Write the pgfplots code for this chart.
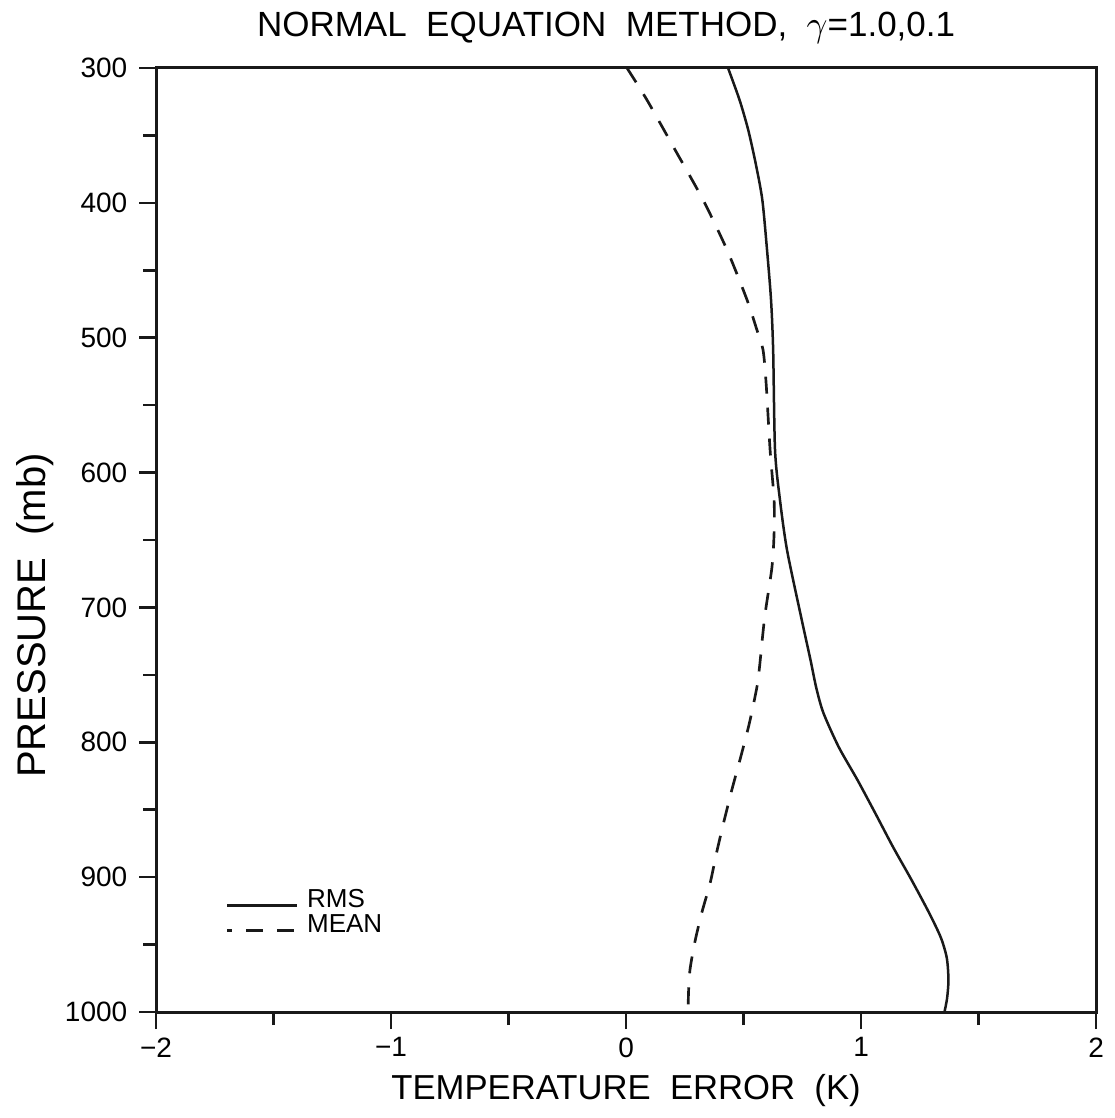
\documentclass[border=0pt]{standalone}
\usepackage{fontspec}
\setmainfont{Liberation Sans}
\usepackage{pgfplots}
\pgfplotsset{compat=1.18}

% temperature error profiles (K) vs pressure (mb)
\pgfplotstableread{
x p
0.434 300
0.483 323.7
0.520 346.0
0.553 371.9
0.580 397.9
0.600 435.0
0.617 472.0
0.626 509.1
0.634 583.3
0.655 620.3
0.685 657.4
0.745 707.1
0.785 739.0
0.810 760.0
0.840 778.3
0.905 803.5
0.985 828.0
1.060 852.4
1.136 877.6
1.215 902.1
1.290 926.6
1.340 945.0
1.365 960.0
1.372 976.3
1.366 990.0
1.355 1000
}\rmsdata
\pgfplotstableread{
x p
0.004 300
0.089 323.7
0.209 360.8
0.328 397.9
0.430 435.0
0.515 472.0
0.557 494.3
0.583 509.1
0.596 533.6
0.613 583.3
0.630 620.3
0.630 644.8
0.621 670.0
0.590 707.1
0.568 744.2
0.557 759.0
0.525 785.7
0.488 810.9
0.450 835.4
0.415 859.8
0.385 882.1
0.358 904.3
0.322 926.6
0.292 948.8
0.272 968.8
0.266 985.0
0.264 1000
}\meandata

\begin{document}
\begin{tikzpicture}
\begin{axis}[
  scale only axis,
  width=282pt, height=283.2pt,
  xmin=-2, xmax=2, ymin=300, ymax=1000,
  y dir=reverse,
  clip=false,
  axis line style={line width=0.9pt, black!90},
  every tick/.style={line width=0.8pt, black!90},
  tick align=outside,
  tick pos=left,
  xtick={-2,-1,0,1,2},
  xticklabels={−2,−1,0,1,2},
  minor xtick={-1.5,-0.5,0.5,1.5},
  ytick={300,400,...,1000},
  minor ytick={350,450,...,950},
  major tick length=5.1pt,
  minor tick length=3.9pt,
  ticklabel style={font=\fontsize{8.4}{9}\selectfont},
  xticklabel style={yshift=1pt},
  /pgf/number format/assume math mode=true,
  /pgf/number format/1000 sep={},
  legend style={draw=none, fill=none, inner sep=0pt,
    at={(axis cs:-1.706,906.6)}, anchor=north west,
    font=\fontsize{7.8}{8}\selectfont,
    nodes={inner sep=0.6pt, text height=5.6pt, text depth=0pt},
    row sep=0.7pt},
  legend cell align=left,
  legend image code/.code={\draw[#1] (0pt,-2.2pt) -- (21pt,-2.2pt); \path (23pt,-2.2pt);},
]
\addplot[black!90, line width=0.75pt, smooth, tension=0.45, forget plot] table[x=x, y=p] {\rmsdata};
\addplot[black!90, line width=0.8pt, smooth, tension=0.45,
  dash pattern=on 5.1pt off 4.2pt, forget plot] table[x=x, y=p] {\meandata};

\addlegendimage{black!90, line width=0.75pt}
\addlegendentry{RMS}
\addlegendimage{black!90, line width=0.8pt, dash pattern=on 5.1pt off 4.2pt, dash phase=3.6pt}
\addlegendentry{MEAN}

\node[anchor=base, font=\fontsize{10.5}{12}\selectfont] at (axis cs:-0.085,277)
  {NORMAL\ \ EQUATION\ \ METHOD,\ \ $\gamma$=1.0,0.1};
\node[anchor=base, font=\fontsize{10.4}{13}\selectfont] at (axis cs:0,1065)
  {TEMPERATURE\ \ ERROR\ \ (K)};
\node[rotate=90, anchor=base, font=\fontsize{12}{14}\selectfont] at (axis cs:-2.472,706)
  {PRESSURE\ \ (mb)};

% page extent of the reference
\path (axis cs:-2.664,249.6) rectangle (axis cs:2.030,1078.6);
\end{axis}
\end{tikzpicture}
\end{document}
